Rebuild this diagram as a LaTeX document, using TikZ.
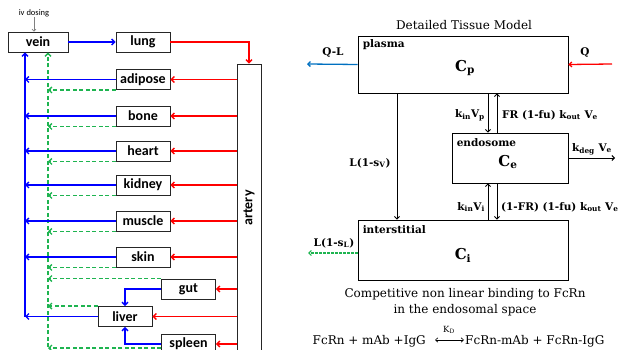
\documentclass[tikz,border=0pt]{standalone}
\usepackage{fontspec}
\usetikzlibrary{arrows.meta}
\newfontfamily\lf{Carlito}
\newfontfamily\rf{DejaVu Serif}
\definecolor{myred}{RGB}{255,0,0}
\definecolor{myblue}{RGB}{0,0,255}
\definecolor{mygreen}{RGB}{30,180,80}
\definecolor{qblue}{RGB}{0,112,192}
\begin{document}
\begin{tikzpicture}[x=1pt,y=-1pt,
 organ/.style={draw=black!85, line width=0.9pt, minimum width=54pt, minimum height=20pt, inner sep=0pt, font=\lf\bfseries\fontsize{14}{16}\selectfont},
 bl/.style={myblue, line width=1.3pt, -{Straight Barb[length=3pt,width=6pt]}},
 rd/.style={myred, line width=1.3pt, -{Straight Barb[length=3pt,width=6pt]}},
 gr/.style={mygreen, line width=1.3pt, dash pattern=on 4pt off 2.5pt, -{Straight Barb[length=3pt,width=6pt]}},
 comp/.style={draw, line width=0.9pt, inner sep=0pt},
 tl/.style={font=\rf\bfseries\fontsize{10.5}{12}\selectfont, anchor=north west, inner sep=0pt},
 cc/.style={font=\rf\bfseries\fontsize{15}{17}\selectfont, inner sep=0pt},
 lab/.style={font=\rf\bfseries\fontsize{10.5}{12}\selectfont, inner sep=0pt},
 thinar/.style={line width=0.9pt, -{Straight Barb[length=2.5pt,width=5pt]}},
 txt/.style={font=\rf\fontsize{12}{14}\selectfont, inner sep=0pt}
]
\clip (0,0) rectangle (622,350);
% ---------- left: whole body ----------
\coordinate (bx) at (25,0);
\coordinate (gbot) at (48,360);
\node[font=\lf\fontsize{8.5}{10}\selectfont, inner sep=0pt] (iv) at (34,13) {iv dosing};
\node[organ, minimum width=60pt] (vein) at (38,42) {vein};
\node[organ] (lung) at (143,42) {lung};
\node[organ] (adipose) at (143,79.5) {adipose};
\node[organ] (bone) at (143,116) {bone};
\node[organ] (heart) at (143,151) {heart};
\node[organ] (kidney) at (143,185) {kidney};
\node[organ] (muscle) at (143,221) {muscle};
\node[organ] (skin) at (143,257) {skin};
\node[organ] (gut) at (188.5,289) {gut};
\node[organ] (liver) at (125,316.5) {liver};
\node[organ] (spleen) at (188.5,344) {spleen};
\node[draw=black!85, line width=0.9pt, minimum width=24pt, minimum height=300pt, inner sep=0pt] (artery) at (249,214) {};
\node[font=\lf\bfseries\fontsize{14}{16}\selectfont, inner sep=0pt, rotate=90] (arterylbl) at (249,208) {artery};

\draw[gray, line width=0.6pt, -{Straight Barb[length=2pt,width=4pt]}] (iv.south) -- (iv.south |- vein.north);
\draw[bl] (vein.east) -- (lung.west);
\draw[rd] (lung.east) -| (artery.north);
\draw[bl] (liver.west -| bx) -- (vein.south -| bx);
\draw[gr] (gbot) -- (vein.south -| gbot);
\foreach \o in {adipose,bone,heart,kidney,muscle,skin,liver}{
  \draw[bl] (\o.west) -- (\o.west -| bx);
}
\foreach \o in {adipose,bone,heart,kidney,muscle,skin}{
  \draw[gr] (\o.south west) -- (\o.south west -| gbot);
}
\foreach \o in {gut,liver}{
  \draw[gr] (\o.north west) -- (\o.north west -| gbot);
}
\draw[gr] ([yshift=-4pt]spleen.west) -- ([yshift=-4pt]spleen.west -| gbot);
\draw[bl] (gut.west) -| (liver.north);
\draw[bl] (spleen.west) -| (liver.south);
\foreach \o in {adipose,bone,heart,kidney,muscle,skin,gut,liver,spleen}{
  \draw[rd] (\o.east -| artery.west) -- (\o.east);
}
% ---------- right: detailed tissue model ----------
\node[txt] (title) at (464,25) {Detailed Tissue Model};
\node[comp, minimum width=210pt, minimum height=57pt] (plasma) at (463,64.5) {};
\node[comp, minimum width=116pt, minimum height=50pt] (endosome) at (510,158) {};
\node[comp, minimum width=210pt, minimum height=60pt] (interstitial) at (463,250) {};
\node[tl] (pl) at ([shift={(5pt,-4pt)}]plasma.north west) {plasma};
\node[tl] (el) at ([shift={(5pt,-6pt)}]endosome.north west) {endosome};
\node[tl] (il) at ([shift={(5pt,-6pt)}]interstitial.north west) {interstitial};
\node[cc] (cp) at (465,68) {C\textsubscript{p}};
\node[cc] (ce) at (508,162) {C\textsubscript{e}};
\node[cc] (ci) at (463,255) {C\textsubscript{i}};

\coordinate (ql) at (307,64);
\coordinate (q) at (612,64);
\coordinate (lv) at (397,0);
\coordinate (k1) at (488,0);
\coordinate (k2) at (497,0);
\coordinate (kd) at (615,158);
\coordinate (ls) at (308,253);
\draw[qblue, thinar, line width=1.3pt] (plasma.west) -- (ql);
\draw[myred, thinar, line width=1.3pt] (q) -- (plasma.east);
\draw[thinar] (plasma.south -| lv) -- (interstitial.north -| lv);
\draw[thinar] (plasma.south -| k1) -- (endosome.north -| k1);
\draw[thinar] (endosome.north -| k2) -- (plasma.south -| k2);
\draw[thinar] (interstitial.north -| k1) -- (endosome.south -| k1);
\draw[thinar] (endosome.south -| k2) -- (interstitial.north -| k2);
\draw[thinar] (endosome.east) -- (kd);
\draw[mygreen, thinar, line width=1.2pt, dash pattern=on 2.5pt off 1.5pt] (interstitial.west |- ls) -- (ls);

\node[lab] (qll) at (333,53) {Q-L};
\node[lab] (qq) at (585,53) {Q};
\node[lab, anchor=east] (kinp) at (485,115) {k\textsubscript{in}V\textsubscript{p}};
\node[lab, anchor=west] (frl) at (502,115) {FR (1-fu) k\textsubscript{out} V\textsubscript{e}};
\node[lab] (lsv) at (370,163) {L(1-s\textsubscript{V})};
\node[lab] (kdeg) at (592,149) {k\textsubscript{deg} V\textsubscript{e}};
\node[lab, anchor=east] (kini) at (485,207) {k\textsubscript{in}V\textsubscript{i}};
\node[lab, anchor=west] (nfr) at (501,207) {(1-FR) (1-fu) k\textsubscript{out} V\textsubscript{e}};
\node[lab] (lsl) at (334,243) {L(1-s\textsubscript{L})};

\node[txt] (c1) at (465,294) {Competitive non linear binding to FcRn};
\node[txt] (c2) at (465,310) {in the endosomal space};
\node[txt, anchor=east] (eql) at (426,341) {FcRn + mAb +IgG};
\node[txt, anchor=west] (eqr) at (465,341) {FcRn-mAb + FcRn-IgG};
\draw[line width=0.6pt, {Straight Barb[length=2.5pt,width=4.5pt]}-{Straight Barb[length=2.5pt,width=4.5pt]}] ([xshift=9pt,yshift=1pt]eql.east) -- ([xshift=-1pt,yshift=1pt]eqr.west);
\node[font=\rf\fontsize{8.5}{9}\selectfont, inner sep=0pt] (kdl) at (449,330) {K\textsubscript{D}};
\end{tikzpicture}
\end{document}
